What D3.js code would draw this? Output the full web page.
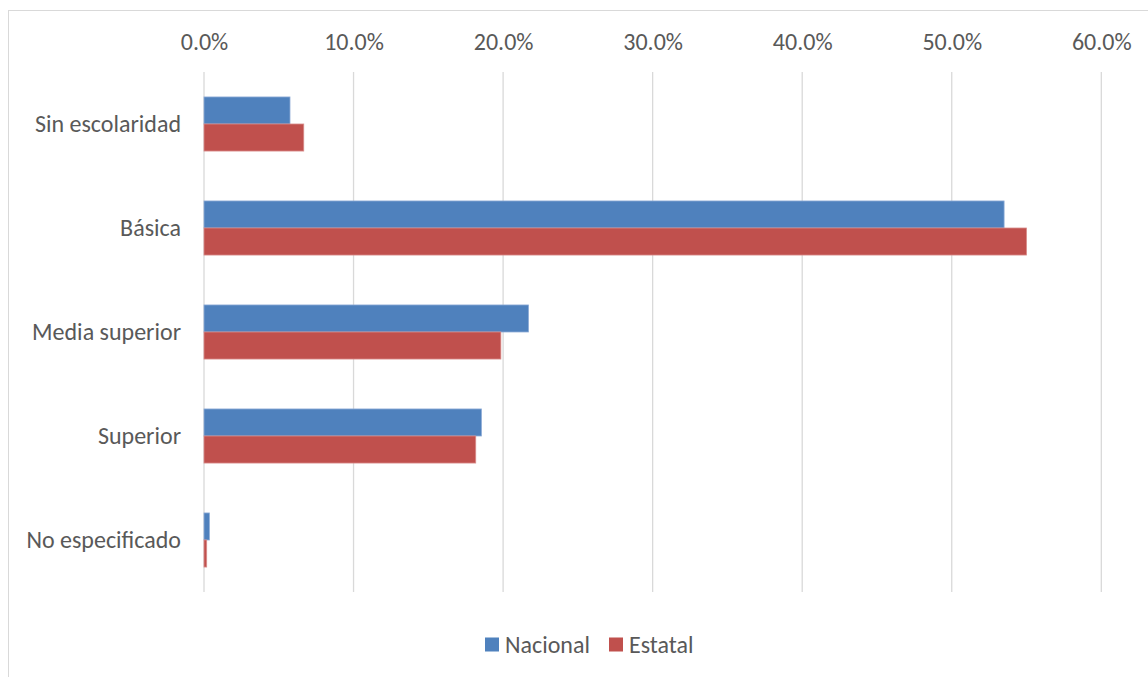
<!DOCTYPE html>
<html>
<head>
<meta charset="utf-8">
<script src="https://cdn.jsdelivr.net/npm/d3@7"></script>
<style>
  body { margin: 0; background: #fff; }
  text { font-family: Calibri, Carlito, "Open Sans", "Noto Sans", sans-serif; fill: #595959; }
</style>
</head>
<body>
<div id="chart"></div>
<script>
let w = 1148;
let h = 677;

const categories = ['Sin escolaridad', 'Básica', 'Media superior', 'Superior', 'No especificado'];
const seriesNames = ['Nacional', 'Estatal'];
const nacional = [5.75, 53.5, 21.7, 18.55, 0.36];
const estatal = [6.67, 55.0, 19.85, 18.17, 0.18];
const ticks = [0, 10, 20, 30, 40, 50, 60];
const colors = ['#4F81BD', '#C0504D'];
const fs = '24px';

let svg = d3.select('#chart').
append('svg').
attr('width', w).
attr('height', h);

// outer chart border
svg.append('rect').
attr('x', 8.5).
attr('y', 10.5).
attr('width', 1200).
attr('height', 700).
attr('fill', 'none').
attr('stroke', '#d9d9d9');

let x = d3.scaleLinear().domain([0, 60]).range([204, 1101.3]);
let y = d3.scaleBand().domain(categories).range([72, 592]).paddingInner(0.48).paddingOuter(0.24);
let sub = d3.scaleBand().domain(seriesNames).range([0, y.bandwidth()]);

// gridlines
svg.append('g').
selectAll('line').
data(ticks).
join('line').
attr('x1', d => x(d)).
attr('x2', d => x(d)).
attr('y1', 72).
attr('y2', 592).
attr('stroke', '#d9d9d9').
attr('stroke-width', 1.3);

// top tick labels
let xAxis = d3.axisTop(x).tickValues(ticks).tickFormat(d => d.toFixed(1) + '%').tickSize(0).tickPadding(0);
let gx = svg.append('g').attr('transform', 'translate(0,50)').call(xAxis);
gx.select('.domain').remove();
gx.selectAll('text').
attr('fill', '#595959').
style('font-size', fs).
style('font-family', 'Calibri, Carlito, "Open Sans", "Noto Sans", sans-serif');

// category labels
svg.append('g').
selectAll('text').
data(categories).
join('text').
attr('x', 181).
attr('y', d => y(d) + y.bandwidth() / 2).
attr('dy', '0.35em').
attr('text-anchor', 'end').
style('font-size', fs).
text(d => d);

let rows = categories.map((c, i) => ({ cat: c, values: [nacional[i], estatal[i]] }));

let groups = svg.append('g').
selectAll('g').
data(rows).
join('g').
attr('transform', d => 'translate(0,' + y(d.cat) + ')');

groups.selectAll('rect').
data(d => d.values.map((v, i) => ({ name: seriesNames[i], value: v, i: i }))).
join('rect').
attr('x', x(0)).
attr('y', d => sub(d.name)).
attr('width', d => x(d.value) - x(0)).
attr('height', sub.bandwidth()).
attr('fill', d => colors[d.i]).
attr('stroke', d => d.i === 0 ? '#8eacd6' : '#d88c8a').
attr('stroke-width', 0.8);

// legend
let legendItems = [{ name: 'Nacional', x: 485 }, { name: 'Estatal', x: 609 }];
let lg = svg.append('g').
selectAll('g').
data(legendItems).
join('g').
attr('transform', d => 'translate(' + d.x + ',637.5)');

lg.append('rect').
attr('width', 14).
attr('height', 14).
attr('fill', (d, i) => colors[i]);

lg.append('text').
attr('x', 20).
attr('y', 7).
attr('dy', '0.35em').
style('font-size', fs).
text(d => d.name);
</script>
</body>
</html>
